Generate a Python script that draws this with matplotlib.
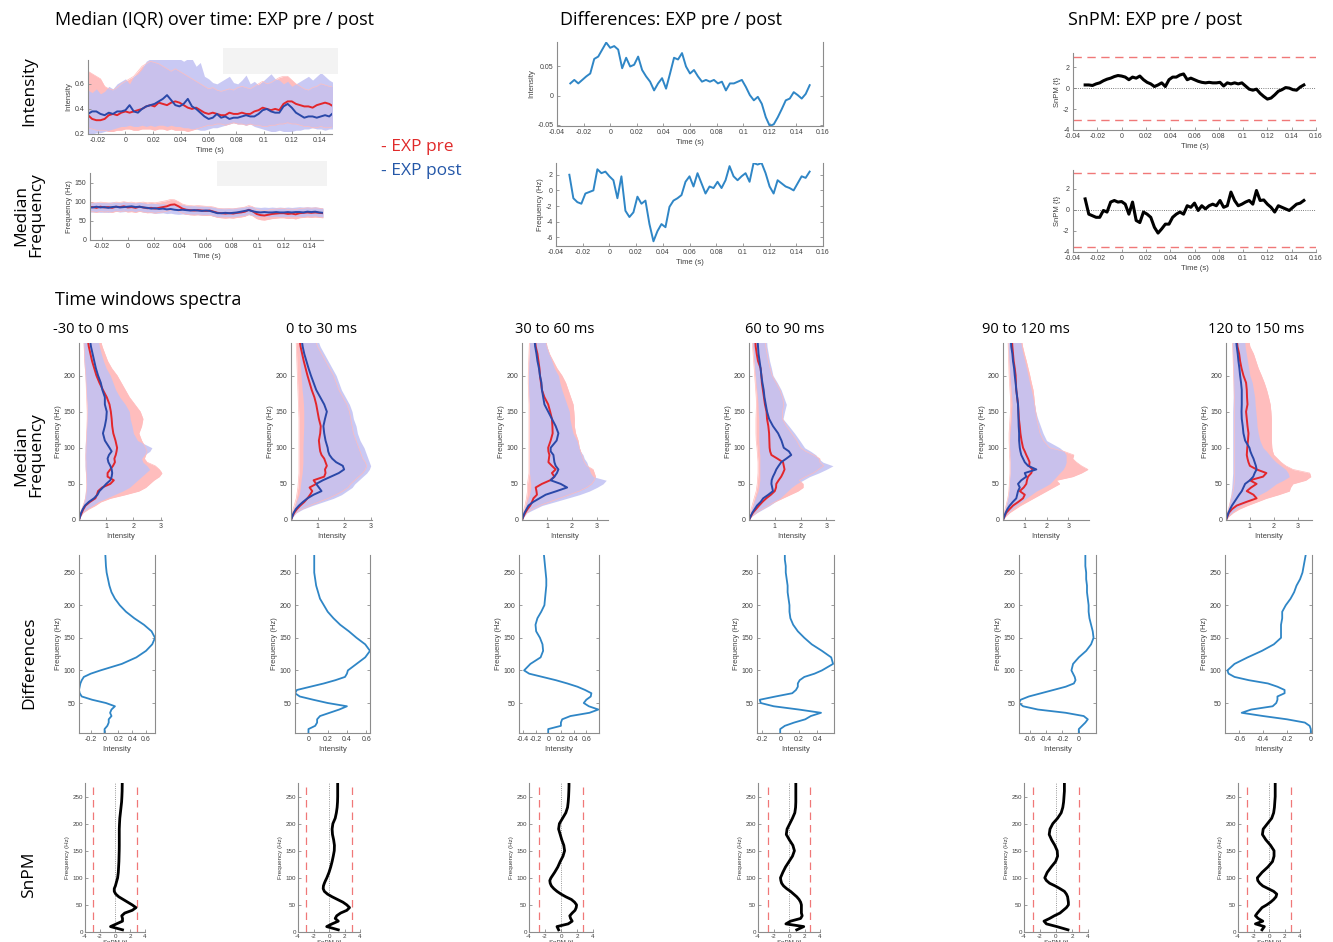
import numpy as np
import matplotlib
matplotlib.use('Agg')
import matplotlib.pyplot as plt
from matplotlib.patches import Rectangle
from matplotlib.ticker import FormatStrFormatter

plt.rcParams['font.family'] = ['Liberation Sans', 'DejaVu Sans']
plt.rcParams['axes.unicode_minus'] = False

W, H = 1333, 942

# ---- time courses (samples every 3 ms from -30 to 150 ms) ----
T = np.linspace(-0.03, 0.15, 61)

INT_PRE_MED = [0.35, 0.35, 0.32, 0.31, 0.31, 0.32, 0.35, 0.36, 0.35, 0.37, 0.38, 0.37, 0.38, 0.39, 0.40, 0.42, 0.43, 0.42, 0.45, 0.44, 0.43, 0.45, 0.46, 0.45, 0.43, 0.41, 0.40, 0.41, 0.39, 0.37, 0.36, 0.37, 0.36, 0.35, 0.35, 0.37, 0.36, 0.36, 0.37, 0.36, 0.36, 0.38, 0.39, 0.41, 0.40, 0.39, 0.40, 0.39, 0.44, 0.46, 0.46, 0.44, 0.43, 0.42, 0.42, 0.41, 0.43, 0.44, 0.45, 0.44, 0.42]
INT_POST_MED = [0.36, 0.36, 0.38, 0.38, 0.36, 0.35, 0.37, 0.36, 0.38, 0.38, 0.39, 0.43, 0.38, 0.37, 0.40, 0.42, 0.43, 0.44, 0.46, 0.48, 0.51, 0.47, 0.43, 0.42, 0.44, 0.48, 0.42, 0.40, 0.37, 0.34, 0.32, 0.33, 0.36, 0.33, 0.34, 0.32, 0.33, 0.33, 0.34, 0.35, 0.34, 0.34, 0.36, 0.39, 0.40, 0.38, 0.37, 0.37, 0.42, 0.44, 0.41, 0.37, 0.35, 0.33, 0.34, 0.34, 0.33, 0.34, 0.35, 0.34, 0.37]
INT_PRE_LO = [0.25, 0.25, 0.24, 0.23, 0.23, 0.23, 0.22, 0.22, 0.23, 0.23, 0.24, 0.24, 0.23, 0.23, 0.24, 0.24, 0.24, 0.23, 0.24, 0.24, 0.23, 0.24, 0.23, 0.23, 0.23, 0.22, 0.23, 0.24, 0.25, 0.26, 0.27, 0.27, 0.28, 0.28, 0.27, 0.28, 0.29, 0.28, 0.28, 0.27, 0.28, 0.27, 0.27, 0.26, 0.26, 0.27, 0.27, 0.28, 0.28, 0.29, 0.28, 0.28, 0.27, 0.26, 0.26, 0.25, 0.25, 0.26, 0.25, 0.25, 0.26]
INT_PRE_HI = [0.70, 0.70, 0.68, 0.66, 0.64, 0.58, 0.56, 0.55, 0.57, 0.60, 0.62, 0.64, 0.66, 0.70, 0.74, 0.76, 0.78, 0.77, 0.76, 0.74, 0.72, 0.70, 0.72, 0.70, 0.68, 0.66, 0.64, 0.62, 0.60, 0.58, 0.56, 0.57, 0.55, 0.54, 0.55, 0.56, 0.55, 0.57, 0.58, 0.57, 0.56, 0.58, 0.60, 0.62, 0.60, 0.61, 0.63, 0.65, 0.66, 0.66, 0.63, 0.60, 0.58, 0.56, 0.55, 0.57, 0.58, 0.60, 0.59, 0.58, 0.58]
INT_POST_LO = [0.20, 0.20, 0.20, 0.21, 0.21, 0.22, 0.23, 0.24, 0.25, 0.26, 0.26, 0.27, 0.26, 0.26, 0.27, 0.26, 0.27, 0.26, 0.27, 0.27, 0.26, 0.27, 0.26, 0.26, 0.25, 0.25, 0.24, 0.24, 0.23, 0.23, 0.24, 0.25, 0.25, 0.26, 0.27, 0.28, 0.29, 0.28, 0.28, 0.27, 0.28, 0.26, 0.25, 0.24, 0.23, 0.22, 0.22, 0.23, 0.22, 0.22, 0.22, 0.23, 0.23, 0.24, 0.24, 0.25, 0.24, 0.24, 0.23, 0.24, 0.24]
INT_POST_HI = [0.55, 0.55, 0.53, 0.56, 0.52, 0.54, 0.58, 0.56, 0.60, 0.62, 0.64, 0.60, 0.66, 0.68, 0.72, 0.78, 0.80, 0.80, 0.80, 0.80, 0.80, 0.80, 0.80, 0.80, 0.78, 0.80, 0.80, 0.74, 0.77, 0.66, 0.64, 0.61, 0.60, 0.62, 0.64, 0.66, 0.61, 0.60, 0.63, 0.67, 0.60, 0.62, 0.59, 0.62, 0.65, 0.68, 0.64, 0.63, 0.60, 0.62, 0.58, 0.60, 0.62, 0.64, 0.66, 0.63, 0.66, 0.69, 0.66, 0.63, 0.61]

FRQ_PRE_MED = [86, 86, 84, 87, 85, 86, 84, 87, 86, 88, 85, 86, 84, 87, 85, 83, 84, 82, 84, 86, 88, 92, 93, 88, 82, 79, 78, 77, 78, 77, 76, 77, 74, 71, 70, 69, 70, 69, 71, 72, 74, 79, 75, 68, 65, 64, 66, 68, 69, 70, 70, 68, 69, 67, 70, 71, 72, 71, 72, 71, 70]
FRQ_POST_MED = [85, 85, 87, 85, 86, 84, 86, 87, 85, 86, 87, 88, 86, 87, 85, 84, 82, 83, 81, 82, 80, 81, 79, 78, 79, 78, 77, 78, 77, 76, 77, 76, 73, 70, 70, 71, 70, 71, 72, 74, 76, 78, 75, 73, 72, 73, 72, 72, 73, 72, 72, 73, 72, 73, 73, 72, 74, 73, 74, 72, 71]
FRQ_PRE_LO = [74, 74, 72, 75, 73, 74, 72, 75, 74, 76, 73, 74, 72, 75, 73, 71, 72, 70, 72, 73, 75, 78, 80, 75, 70, 67, 66, 65, 66, 65, 64, 65, 62, 59, 58, 57, 58, 57, 59, 60, 62, 67, 63, 56, 53, 52, 54, 56, 57, 58, 58, 56, 57, 55, 58, 59, 60, 59, 60, 59, 58]
FRQ_PRE_HI = [98, 98, 97, 99, 98, 97, 96, 99, 98, 100, 98, 99, 97, 98, 99, 97, 98, 97, 99, 101, 103, 106, 105, 100, 94, 91, 90, 89, 90, 89, 88, 88, 86, 83, 82, 81, 82, 81, 83, 84, 86, 90, 87, 80, 78, 77, 78, 80, 81, 82, 82, 80, 81, 80, 82, 83, 84, 83, 84, 83, 82]
FRQ_POST_LO = [73, 73, 74, 72, 73, 72, 74, 75, 73, 74, 75, 76, 74, 75, 73, 72, 71, 70, 70, 71, 69, 70, 68, 67, 68, 67, 66, 67, 66, 65, 66, 65, 62, 60, 60, 61, 60, 61, 62, 63, 64, 66, 64, 62, 61, 62, 61, 61, 62, 61, 61, 62, 61, 62, 62, 61, 63, 62, 63, 61, 60]
FRQ_POST_HI = [97, 97, 99, 98, 97, 98, 100, 99, 98, 100, 99, 98, 97, 99, 97, 95, 96, 95, 94, 95, 93, 94, 92, 91, 92, 90, 89, 90, 88, 89, 88, 87, 86, 84, 83, 84, 83, 84, 85, 86, 87, 88, 87, 86, 85, 86, 85, 86, 85, 86, 85, 86, 85, 86, 87, 86, 87, 86, 87, 85, 84]

DIFF_INT = [0.021, 0.027, 0.021, 0.027, 0.033, 0.038, 0.063, 0.067, 0.079, 0.091, 0.082, 0.085, 0.079, 0.047, 0.065, 0.050, 0.053, 0.067, 0.044, 0.033, 0.024, 0.009, 0.021, 0.030, 0.012, 0.038, 0.065, 0.062, 0.073, 0.050, 0.038, 0.044, 0.033, 0.024, 0.027, 0.024, 0.027, 0.021, 0.024, 0.009, 0.021, 0.021, 0.024, 0.027, 0.015, 0.001, -0.008, -0.002, -0.014, -0.037, -0.052, -0.049, -0.037, -0.023, -0.008, -0.005, 0.006, 0.001, -0.005, 0.003, 0.018]
DIFF_FRQ = [2.0, -1.0, -1.5, -1.7, -0.4, -0.2, 0.0, 2.7, 2.2, 2.4, 1.8, 1.3, -1.0, 1.8, -2.6, -3.4, -2.8, -0.8, -1.7, -1.3, -4.3, -6.5, -5.2, -4.3, -4.7, -2.1, -1.3, -1.0, -0.6, 1.1, 1.8, 0.5, 2.2, 0.9, -0.4, 0.5, 0.3, 1.1, 0.3, 1.3, 3.1, 1.8, 1.3, 1.8, 2.2, 1.1, 3.5, 3.3, 3.5, 2.2, 0.5, -0.4, 1.3, 0.9, 0.5, 0.3, 0.0, 0.9, 1.8, 1.6, 2.4]
SNPM_INT = [0.3, 0.3, 0.25, 0.4, 0.5, 0.7, 0.85, 0.95, 1.1, 1.2, 1.15, 1.05, 0.8, 1.05, 0.95, 1.15, 0.8, 0.55, 0.4, 0.15, 0.3, 0.5, 0.15, 0.8, 1.05, 1.05, 1.25, 1.35, 0.8, 0.95, 0.8, 0.65, 0.55, 0.5, 0.55, 0.5, 0.5, 0.55, 0.2, 0.5, 0.4, 0.5, 0.4, 0.5, 0.2, -0.1, -0.2, -0.1, -0.5, -0.8, -1.05, -0.95, -0.65, -0.3, -0.15, 0.05, 0.0, -0.15, -0.2, 0.1, 0.3]
SNPM_FRQ = [1.05, -0.4, -0.55, -0.7, -0.7, -0.05, -0.2, 0.75, 0.9, 0.75, 0.8, 0.55, -0.4, 0.75, -1.0, -1.2, -0.2, -0.4, -0.7, -1.65, -2.2, -1.8, -1.35, -1.35, -0.7, -0.4, -0.2, -0.4, 0.4, 0.25, 0.65, -0.05, 0.4, 0.1, 0.4, 0.55, 0.4, 0.9, 0.25, 0.4, 1.7, 0.9, 0.4, 0.55, 0.75, 0.9, 0.55, 1.85, 0.9, 0.95, 0.55, 0.25, -0.2, 0.4, 0.25, 0.1, -0.05, 0.25, 0.55, 0.65, 0.9]
SNPM_INT_THR = 3.0
SNPM_FRQ_THR = 3.5

# ---- time-window spectra ----
WINDOWS = ['-30 to 0 ms', '0 to 30 ms', '30 to 60 ms', '60 to 90 ms', '90 to 120 ms', '120 to 150 ms']
F_SPEC = [0, 5, 10, 15, 20, 25, 30, 35, 40, 45, 50, 55, 60, 65, 70, 75, 80, 85, 90, 95, 100,
          110, 120, 130, 140, 150, 160, 170, 180, 190, 200, 210, 220, 230, 240, 250]

SPEC_PRE_MED = [
    [0, 0.04, 0.10, 0.16, 0.24, 0.40, 0.60, 0.66, 0.70, 0.85, 1.15, 1.28, 1.05, 1.05, 1.15, 1.25, 1.32, 1.30, 1.35, 1.38, 1.40, 1.34, 1.26, 1.22, 1.20, 1.17, 1.12, 1.02, 0.88, 0.75, 0.64, 0.56, 0.48, 0.42, 0.36, 0.32],
    [0, 0.05, 0.12, 0.22, 0.35, 0.50, 0.62, 0.72, 0.80, 0.70, 0.95, 0.85, 1.25, 1.30, 1.28, 1.35, 1.30, 1.25, 1.15, 1.10, 1.08, 1.05, 1.10, 1.12, 1.05, 1.00, 0.95, 0.88, 0.78, 0.70, 0.62, 0.55, 0.48, 0.42, 0.36, 0.32],
    [0, 0.06, 0.13, 0.22, 0.33, 0.40, 0.46, 0.60, 0.58, 0.55, 0.80, 1.13, 1.30, 1.20, 1.35, 1.20, 1.06, 1.08, 1.10, 1.06, 1.05, 1.15, 1.23, 1.22, 1.20, 1.13, 1.05, 0.90, 0.80, 0.76, 0.72, 0.70, 0.66, 0.62, 0.55, 0.52],
    [0, 0.07, 0.15, 0.27, 0.39, 0.52, 0.67, 0.85, 1.00, 1.05, 1.06, 1.15, 1.25, 1.32, 1.38, 1.35, 1.32, 1.10, 0.87, 0.82, 0.80, 0.79, 0.78, 0.75, 0.70, 0.68, 0.62, 0.58, 0.54, 0.50, 0.48, 0.45, 0.35, 0.30, 0.26, 0.24],
    [0, 0.07, 0.15, 0.30, 0.46, 0.70, 0.92, 1.00, 0.77, 0.95, 1.07, 1.10, 1.15, 1.30, 1.35, 1.20, 1.22, 1.15, 1.07, 1.00, 0.92, 0.85, 0.80, 0.77, 0.73, 0.71, 0.69, 0.65, 0.61, 0.59, 0.58, 0.54, 0.49, 0.46, 0.43, 0.41],
    [0, 0.06, 0.12, 0.25, 0.45, 0.85, 1.28, 1.15, 0.87, 1.05, 1.28, 1.00, 1.55, 1.69, 1.28, 1.00, 0.94, 0.90, 0.87, 0.88, 0.89, 0.92, 0.94, 0.90, 0.87, 0.84, 0.90, 0.88, 0.87, 0.84, 0.73, 0.65, 0.59, 0.55, 0.48, 0.45],
]
SPEC_POST_MED = [
    [0, 0.04, 0.08, 0.14, 0.22, 0.36, 0.55, 0.68, 0.75, 0.88, 1.00, 1.15, 1.20, 1.22, 1.20, 1.15, 1.08, 1.05, 1.10, 1.20, 1.12, 0.95, 0.88, 0.95, 1.00, 1.02, 0.95, 0.95, 0.86, 0.80, 0.70, 0.62, 0.56, 0.50, 0.44, 0.40],
    [0, 0.05, 0.10, 0.18, 0.30, 0.45, 0.62, 0.85, 1.15, 1.05, 0.95, 1.20, 1.50, 1.80, 2.00, 1.95, 1.70, 1.55, 1.45, 1.40, 1.38, 1.30, 1.25, 1.22, 1.28, 1.35, 1.25, 1.10, 0.95, 0.85, 0.75, 0.66, 0.58, 0.50, 0.44, 0.40],
    [0, 0.05, 0.10, 0.18, 0.26, 0.45, 0.70, 0.95, 1.39, 1.81, 1.55, 1.15, 1.30, 1.40, 1.46, 1.35, 1.30, 1.28, 1.26, 1.15, 1.15, 1.39, 1.46, 1.35, 1.20, 1.05, 0.90, 0.85, 0.80, 0.78, 0.72, 0.68, 0.62, 0.58, 0.53, 0.50],
    [0, 0.06, 0.13, 0.22, 0.31, 0.45, 0.55, 0.75, 0.93, 0.90, 0.87, 0.88, 0.93, 1.00, 1.06, 1.15, 1.25, 1.45, 1.64, 1.55, 1.35, 1.26, 1.13, 0.93, 0.78, 0.70, 0.65, 0.60, 0.57, 0.52, 0.48, 0.45, 0.41, 0.37, 0.35, 0.33],
    [0, 0.06, 0.12, 0.20, 0.31, 0.45, 0.61, 0.65, 0.69, 0.77, 0.69, 0.84, 1.07, 1.00, 1.53, 1.15, 1.00, 0.92, 0.84, 0.80, 0.77, 0.74, 0.74, 0.72, 0.71, 0.70, 0.69, 0.65, 0.61, 0.58, 0.54, 0.51, 0.46, 0.43, 0.38, 0.36],
    [0, 0.05, 0.10, 0.17, 0.25, 0.35, 0.45, 0.55, 0.66, 0.73, 0.80, 1.00, 1.14, 1.20, 1.28, 1.25, 1.20, 1.15, 1.08, 1.02, 0.98, 0.80, 0.73, 0.70, 0.66, 0.65, 0.66, 0.66, 0.66, 0.63, 0.59, 0.56, 0.52, 0.49, 0.45, 0.42],
]
SPEC_PRE_LO = [
    [0, 0.02, 0.05, 0.10, 0.15, 0.20, 0.24, 0.26, 0.27, 0.28, 0.28, 0.28, 0.27, 0.27, 0.26, 0.26, 0.26, 0.25, 0.25, 0.26, 0.26, 0.27, 0.28, 0.29, 0.30, 0.30, 0.29, 0.28, 0.27, 0.26, 0.25, 0.23, 0.21, 0.20, 0.19, 0.18],
    [0, 0.02, 0.05, 0.08, 0.12, 0.16, 0.20, 0.22, 0.24, 0.26, 0.27, 0.28, 0.29, 0.30, 0.30, 0.30, 0.30, 0.30, 0.30, 0.30, 0.30, 0.30, 0.30, 0.30, 0.30, 0.29, 0.28, 0.27, 0.26, 0.25, 0.24, 0.23, 0.22, 0.21, 0.20, 0.19],
    [0, 0.02, 0.05, 0.08, 0.12, 0.15, 0.18, 0.20, 0.22, 0.22, 0.22, 0.24, 0.26, 0.28, 0.28, 0.28, 0.28, 0.28, 0.28, 0.28, 0.28, 0.28, 0.28, 0.28, 0.28, 0.28, 0.28, 0.27, 0.26, 0.25, 0.25, 0.26, 0.27, 0.28, 0.29, 0.30],
    [0, 0.02, 0.05, 0.08, 0.12, 0.16, 0.20, 0.24, 0.28, 0.30, 0.32, 0.33, 0.34, 0.35, 0.35, 0.35, 0.35, 0.34, 0.33, 0.32, 0.31, 0.28, 0.27, 0.27, 0.27, 0.28, 0.29, 0.28, 0.26, 0.24, 0.22, 0.20, 0.18, 0.16, 0.14, 0.13],
    [0, 0.03, 0.06, 0.10, 0.14, 0.18, 0.22, 0.25, 0.27, 0.28, 0.29, 0.30, 0.31, 0.32, 0.32, 0.32, 0.32, 0.31, 0.30, 0.30, 0.29, 0.28, 0.28, 0.30, 0.32, 0.34, 0.35, 0.34, 0.32, 0.30, 0.28, 0.27, 0.26, 0.25, 0.24, 0.23],
    [0, 0.03, 0.06, 0.10, 0.14, 0.18, 0.22, 0.26, 0.30, 0.32, 0.34, 0.35, 0.36, 0.36, 0.36, 0.36, 0.36, 0.36, 0.36, 0.36, 0.36, 0.36, 0.36, 0.35, 0.35, 0.35, 0.35, 0.35, 0.34, 0.33, 0.32, 0.31, 0.30, 0.29, 0.28, 0.27],
]
SPEC_PRE_HI = [
    [0, 0.06, 0.15, 0.35, 0.60, 0.80, 1.15, 1.70, 2.20, 2.45, 2.60, 2.75, 2.95, 3.05, 2.95, 2.80, 2.50, 2.40, 2.45, 2.50, 2.45, 2.30, 2.20, 2.30, 2.35, 2.25, 2.05, 1.85, 1.70, 1.55, 1.40, 1.20, 1.05, 0.95, 0.85, 0.78],
    [0, 0.07, 0.18, 0.40, 0.70, 1.05, 1.40, 1.70, 1.95, 2.15, 2.25, 2.40, 2.55, 2.70, 2.80, 2.85, 2.80, 2.70, 2.65, 2.60, 2.55, 2.45, 2.35, 2.30, 2.25, 2.20, 2.10, 1.95, 1.80, 1.70, 1.60, 1.45, 1.30, 1.15, 1.00, 0.90],
    [0, 0.08, 0.18, 0.40, 0.70, 1.10, 1.50, 1.90, 2.30, 2.60, 2.80, 2.90, 2.95, 2.90, 2.85, 2.60, 2.50, 2.45, 2.40, 2.35, 2.30, 2.25, 2.15, 2.10, 2.10, 2.08, 2.05, 1.95, 1.85, 1.75, 1.60, 1.40, 1.25, 1.10, 1.00, 0.95],
    [0, 0.10, 0.28, 0.50, 0.75, 1.00, 1.30, 1.60, 1.90, 2.10, 2.10, 1.95, 2.20, 2.50, 2.70, 2.90, 2.75, 2.75, 2.50, 2.20, 2.00, 1.85, 1.65, 1.45, 1.30, 1.30, 1.35, 1.30, 1.20, 1.05, 0.90, 0.82, 0.75, 0.70, 0.65, 0.62],
    [0, 0.12, 0.30, 0.55, 0.80, 1.10, 1.40, 1.70, 2.00, 2.30, 2.60, 2.45, 3.20, 3.60, 3.90, 3.60, 3.37, 3.20, 3.25, 2.80, 2.14, 1.85, 1.70, 1.62, 1.55, 1.50, 1.45, 1.42, 1.38, 1.30, 1.23, 1.15, 1.07, 0.98, 0.90, 0.85],
    [0, 0.12, 0.30, 0.55, 0.90, 1.30, 1.69, 2.20, 2.65, 2.70, 2.80, 3.34, 3.55, 3.50, 2.80, 2.50, 2.30, 2.15, 2.00, 1.95, 1.92, 1.90, 1.90, 1.90, 1.90, 1.88, 1.85, 1.78, 1.70, 1.60, 1.48, 1.35, 1.25, 1.15, 1.00, 0.95],
]
SPEC_POST_LO = [
    [0, 0.02, 0.05, 0.09, 0.13, 0.17, 0.20, 0.22, 0.24, 0.26, 0.27, 0.26, 0.25, 0.24, 0.23, 0.22, 0.22, 0.22, 0.22, 0.22, 0.22, 0.24, 0.26, 0.28, 0.29, 0.30, 0.30, 0.28, 0.26, 0.24, 0.22, 0.20, 0.18, 0.17, 0.16, 0.15],
    [0, 0.03, 0.06, 0.10, 0.15, 0.20, 0.25, 0.30, 0.33, 0.35, 0.36, 0.38, 0.40, 0.42, 0.43, 0.44, 0.45, 0.45, 0.45, 0.45, 0.45, 0.46, 0.47, 0.48, 0.48, 0.48, 0.47, 0.45, 0.42, 0.40, 0.38, 0.36, 0.34, 0.32, 0.30, 0.28],
    [0, 0.03, 0.06, 0.10, 0.15, 0.20, 0.25, 0.30, 0.33, 0.35, 0.35, 0.33, 0.32, 0.30, 0.30, 0.30, 0.30, 0.30, 0.30, 0.30, 0.30, 0.30, 0.30, 0.30, 0.30, 0.30, 0.30, 0.28, 0.27, 0.26, 0.26, 0.27, 0.28, 0.30, 0.30, 0.30],
    [0, 0.03, 0.06, 0.10, 0.15, 0.20, 0.25, 0.30, 0.35, 0.38, 0.40, 0.42, 0.42, 0.42, 0.42, 0.42, 0.42, 0.42, 0.42, 0.40, 0.40, 0.38, 0.38, 0.38, 0.38, 0.36, 0.35, 0.33, 0.30, 0.27, 0.25, 0.22, 0.20, 0.18, 0.15, 0.14],
    [0, 0.03, 0.06, 0.10, 0.14, 0.18, 0.22, 0.25, 0.27, 0.28, 0.30, 0.30, 0.32, 0.33, 0.33, 0.33, 0.33, 0.33, 0.32, 0.32, 0.30, 0.30, 0.32, 0.35, 0.38, 0.40, 0.42, 0.40, 0.38, 0.35, 0.32, 0.30, 0.28, 0.26, 0.24, 0.23],
    [0, 0.02, 0.05, 0.08, 0.11, 0.14, 0.17, 0.20, 0.22, 0.24, 0.25, 0.26, 0.27, 0.28, 0.28, 0.28, 0.28, 0.28, 0.28, 0.28, 0.28, 0.28, 0.28, 0.28, 0.28, 0.28, 0.29, 0.30, 0.30, 0.30, 0.30, 0.29, 0.28, 0.27, 0.26, 0.25],
]
SPEC_POST_HI = [
    [0, 0.06, 0.14, 0.30, 0.50, 0.70, 1.00, 1.30, 1.60, 1.85, 2.00, 2.15, 2.30, 2.45, 2.60, 2.50, 2.35, 2.30, 2.40, 2.60, 2.68, 2.15, 2.00, 1.95, 1.88, 1.85, 1.70, 1.50, 1.35, 1.25, 1.15, 1.00, 0.90, 0.82, 0.75, 0.70],
    [0, 0.08, 0.20, 0.45, 0.80, 1.20, 1.60, 1.90, 2.10, 2.30, 2.40, 2.55, 2.70, 2.85, 2.95, 3.00, 2.95, 2.90, 2.85, 2.80, 2.75, 2.60, 2.50, 2.45, 2.35, 2.30, 2.20, 2.05, 1.90, 1.80, 1.70, 1.55, 1.40, 1.25, 1.10, 1.00],
    [0, 0.08, 0.20, 0.50, 0.80, 1.30, 1.80, 2.30, 2.70, 3.00, 3.25, 3.38, 2.85, 2.75, 2.70, 2.65, 2.60, 2.50, 2.45, 2.35, 2.30, 2.20, 2.05, 1.98, 1.92, 1.90, 1.80, 1.70, 1.60, 1.52, 1.46, 1.30, 1.20, 1.10, 1.00, 0.95],
    [0, 0.10, 0.30, 0.55, 0.80, 1.00, 1.20, 1.35, 1.50, 1.65, 1.84, 2.10, 2.35, 2.70, 3.00, 3.26, 2.87, 2.70, 2.60, 2.40, 2.16, 1.97, 1.77, 1.55, 1.32, 1.38, 1.45, 1.35, 1.25, 1.10, 0.93, 0.87, 0.80, 0.75, 0.70, 0.68],
    [0, 0.10, 0.25, 0.40, 0.60, 0.85, 1.07, 1.30, 1.53, 1.85, 2.14, 2.30, 2.45, 2.60, 2.76, 2.85, 2.90, 2.90, 2.90, 2.80, 2.60, 2.00, 1.84, 1.72, 1.60, 1.50, 1.45, 1.37, 1.30, 1.22, 1.15, 1.08, 1.00, 0.92, 0.85, 0.80],
    [0, 0.10, 0.25, 0.40, 0.60, 0.90, 1.15, 1.40, 1.69, 1.90, 2.10, 2.40, 2.65, 2.60, 2.50, 2.30, 2.10, 1.95, 1.82, 1.70, 1.55, 1.42, 1.35, 1.30, 1.28, 1.25, 1.22, 1.20, 1.15, 1.10, 1.00, 0.95, 0.90, 0.85, 0.80, 0.78],
]
SPEC_XMAX = [3.05, 3.05, 3.45, 3.3, 3.95, 3.6]

# ---- frequency profiles of the differences and SnPM ----
F_DIFF = [4, 10, 15, 20, 25, 30, 35, 40, 45, 50, 55, 60, 65, 70, 75, 80, 85, 90, 95, 100,
          110, 120, 130, 140, 150, 160, 170, 180, 190, 200, 210, 220, 230, 240, 250, 260, 270, 280]

DIFF_SPEC = [
    [0.0, 0.0, 0.04, 0.06, 0.06, 0.10, 0.08, 0.10, 0.15, 0.02, -0.18, -0.33, -0.36, -0.37, -0.36, -0.35, -0.33, -0.30, -0.20, -0.06, 0.25, 0.46, 0.60, 0.69, 0.73, 0.68, 0.57, 0.43, 0.31, 0.22, 0.15, 0.10, 0.07, 0.05, 0.03, 0.02, 0.015, 0.01],
    [0.0, 0.0, 0.07, 0.09, 0.09, 0.12, 0.22, 0.32, 0.40, 0.20, 0.05, -0.09, -0.14, -0.12, 0.02, 0.16, 0.28, 0.38, 0.40, 0.41, 0.50, 0.59, 0.64, 0.59, 0.50, 0.42, 0.33, 0.26, 0.20, 0.16, 0.12, 0.10, 0.08, 0.07, 0.06, 0.06, 0.06, 0.06],
    [0.0, 0.0, 0.20, 0.20, 0.22, 0.35, 0.65, 0.79, 0.64, 0.56, 0.60, 0.67, 0.68, 0.58, 0.46, 0.30, 0.12, -0.09, -0.30, -0.38, -0.28, -0.12, -0.08, -0.09, -0.13, -0.19, -0.20, -0.17, -0.11, -0.06, -0.05, -0.04, -0.03, -0.03, -0.04, -0.05, -0.06, -0.07],
    [0.0, 0.0, 0.05, 0.15, 0.27, 0.33, 0.44, 0.20, -0.07, -0.21, -0.22, -0.05, 0.13, 0.17, 0.19, 0.19, 0.21, 0.26, 0.37, 0.45, 0.57, 0.55, 0.45, 0.34, 0.26, 0.19, 0.14, 0.11, 0.10, 0.10, 0.09, 0.08, 0.08, 0.07, 0.06, 0.06, 0.05, 0.05],
    [0.0, 0.0, 0.04, 0.08, 0.11, 0.06, -0.16, -0.50, -0.68, -0.73, -0.71, -0.61, -0.46, -0.31, -0.16, -0.06, -0.04, -0.05, -0.07, -0.09, -0.07, 0.0, 0.09, 0.15, 0.18, 0.17, 0.15, 0.13, 0.12, 0.12, 0.11, 0.10, 0.10, 0.09, 0.09, 0.08, 0.08, 0.08],
    [0.0, 0.0, -0.01, -0.05, -0.20, -0.40, -0.58, -0.50, -0.32, -0.29, -0.28, -0.28, -0.22, -0.22, -0.28, -0.36, -0.52, -0.64, -0.69, -0.70, -0.64, -0.53, -0.41, -0.31, -0.25, -0.25, -0.25, -0.24, -0.24, -0.21, -0.17, -0.14, -0.12, -0.09, -0.07, -0.06, -0.05, -0.04],
]
DIFF_XLIM = [(-0.37, 0.73), (-0.14, 0.64), (-0.46, 0.8), (-0.25, 0.58), (-0.73, 0.21), (-0.72, 0.01)]
DIFF_XTICKS = [[-0.2, 0, 0.2, 0.4, 0.6], [0, 0.2, 0.4, 0.6], [-0.4, -0.2, 0, 0.2, 0.4, 0.6],
               [-0.2, 0, 0.2, 0.4], [-0.6, -0.4, -0.2, 0], [-0.6, -0.4, -0.2, 0]]

SNPM_SPEC = [
    [1.0, -0.6, 0.2, 1.0, 1.0, 0.9, 1.3, 2.3, 2.8, 2.3, 1.7, 1.1, 0.5, 0.1, -0.1, -0.1, 0.05, 0.15, 0.25, 0.35, 0.44, 0.48, 0.52, 0.54, 0.56, 0.57, 0.57, 0.57, 0.57, 0.60, 0.64, 0.72, 0.80, 0.88, 0.92, 0.95, 0.96, 0.97],
    [1.2, -0.3, 0.4, 1.2, 0.8, 1.0, 1.5, 2.3, 2.65, 2.3, 1.8, 1.1, 0.4, -0.2, -0.6, -0.75, -0.72, -0.6, -0.45, -0.28, 0.0, 0.22, 0.4, 0.55, 0.68, 0.7, 0.6, 0.45, 0.4, 0.5, 0.8, 0.95, 1.05, 1.1, 1.12, 1.12, 1.12, 1.12],
    [-0.3, -0.5, 0.9, 1.4, 1.2, 1.1, 1.4, 1.75, 1.9, 1.95, 1.7, 1.3, 0.6, 0.0, -0.5, -0.9, -1.2, -1.35, -1.4, -1.25, -0.8, -0.4, -0.1, 0.25, 0.45, 0.35, 0.1, -0.1, -0.3, -0.2, 0.2, 0.6, 0.82, 0.9, 0.95, 0.98, 1.0, 1.0],
    [1.0, 1.9, -0.4, 0.2, 1.5, 1.7, 1.6, 1.6, 1.6, 1.6, 1.5, 1.3, 1.0, 0.6, 0.2, -0.3, -0.7, -0.95, -1.05, -1.1, -0.8, -0.45, 0.0, 0.45, 0.7, 0.5, 0.05, -0.35, -0.25, 0.1, 0.45, 0.75, 0.85, 0.88, 0.88, 0.88, 0.88, 0.88],
    [1.5, 0.1, -1.2, -1.5, -0.8, -0.2, 0.5, 0.9, 1.3, 1.55, 1.55, 1.5, 1.45, 1.3, 1.05, 0.5, -0.1, -0.8, -1.2, -1.4, -1.1, -0.6, -0.05, 0.2, 0.15, -0.15, -0.55, -0.85, -0.75, -0.4, 0.2, 0.65, 0.85, 0.95, 1.0, 1.05, 1.05, 1.05],
    [-0.9, -0.6, -1.75, -0.8, -1.4, -1.75, -1.5, -1.2, -0.9, -0.3, 0.2, 0.6, 0.9, 1.0, 0.6, -0.1, -0.8, -1.2, -1.45, -1.5, -0.9, -0.15, 0.45, 0.65, 0.65, 0.2, -0.4, -0.85, -0.75, -0.2, 0.35, 0.6, 0.7, 0.75, 0.8, 0.8, 0.8, 0.8],
]
SNPM_THR = [2.95, 2.95, 2.7, 2.75, 2.85, 2.8]

# colours
RED = '#e3262b'
BLUE = '#2a48a8'
PINK = '#ffbdbd'
LAV = '#c2c2f3'
LINE_BLUE = '#2f86c6'
DASH_RED = '#f07878'
SPINE = '#8c8c8c'
TXT = '#404040'
BIG = ['Open Sans', 'DejaVu Sans']


def px_axes(fig, x0, y0, x1, y1):
    return fig.add_axes([x0 / W, 1 - y1 / H, (x1 - x0) / W, (y1 - y0) / H])


def style(ax, right=False):
    ax.spines['top'].set_visible(False)
    ax.spines['right'].set_visible(right)
    for s in ax.spines.values():
        s.set_color(SPINE)
        s.set_linewidth(0.8)
    ax.tick_params(direction='in', length=2, width=0.6, colors=SPINE,
                   labelcolor=TXT, labelsize=5, pad=2.5, right=right)
    ax.set_facecolor('none')


def labels(ax, xl, yl):
    ax.set_xlabel(xl, fontsize=5.5, color=TXT, labelpad=1.5)
    ax.set_ylabel(yl, fontsize=5.5, color=TXT, labelpad=1.5)


def ftext(x, y, s, **kw):
    fig.text(x / W, 1 - y / H, s, **kw)


def band(ax, x, lo, hi, color, alpha, vertical=False):
    # IQR band with a faint outline so the edges show through the other band
    if vertical:
        ax.fill_betweenx(x, lo, hi, color=color, alpha=alpha, lw=0)
        ax.plot(lo, x, color=color, lw=0.5)
        ax.plot(hi, x, color=color, lw=0.5)
    else:
        ax.fill_between(x, lo, hi, color=color, alpha=alpha, lw=0)
        ax.plot(x, lo, color=color, lw=0.5)
        ax.plot(x, hi, color=color, lw=0.5)


fig = plt.figure(figsize=(W / 100, H / 100), dpi=100)

# ---- median (IQR) over time ----
ax = px_axes(fig, 88, 60, 332, 134)
band(ax, T, INT_PRE_LO, INT_PRE_HI, PINK, 1.0)
ax.fill_between(T, INT_POST_LO, INT_POST_HI, color=LAV, alpha=0.88, lw=0)
ax.plot(T, INT_PRE_MED, color=RED, lw=1.4)
ax.plot(T, INT_POST_MED, color=BLUE, lw=1.4)
ax.set_xlim(-0.027, 0.149)
ax.set_ylim(0.2, 0.79)
ax.set_xticks(np.arange(-0.02, 0.15, 0.02))
ax.set_yticks([0.2, 0.4, 0.6])
ax.xaxis.set_major_formatter(FormatStrFormatter('%g'))
ax.yaxis.set_major_formatter(FormatStrFormatter('%g'))
style(ax)
labels(ax, 'Time (s)', 'Intensity')

ax = px_axes(fig, 90, 173, 323, 240)
band(ax, T, FRQ_PRE_LO, FRQ_PRE_HI, PINK, 1.0)
ax.fill_between(T, FRQ_POST_LO, FRQ_POST_HI, color=LAV, alpha=0.88, lw=0)
ax.plot(T, FRQ_PRE_MED, color=RED, lw=1.4)
ax.plot(T, FRQ_POST_MED, color=BLUE, lw=1.4)
ax.set_xlim(-0.029, 0.15)
ax.set_ylim(0, 175)
ax.set_xticks(np.arange(-0.02, 0.15, 0.02))
ax.set_yticks([0, 50, 100, 150])
ax.xaxis.set_major_formatter(FormatStrFormatter('%g'))
style(ax)
labels(ax, 'Time (s)', 'Frequency (Hz)')

# ---- differences over time ----
ax = px_axes(fig, 557, 42, 823, 126)
ax.plot(T, DIFF_INT, color=LINE_BLUE, lw=1.4)
ax.set_xlim(-0.04, 0.16)
ax.set_ylim(-0.052, 0.092)
ax.set_xticks(np.arange(-0.04, 0.17, 0.02))
ax.set_yticks([-0.05, 0, 0.05])
ax.xaxis.set_major_formatter(FormatStrFormatter('%g'))
ax.yaxis.set_major_formatter(FormatStrFormatter('%g'))
style(ax, right=True)
labels(ax, 'Time (s)', 'Intensity')

ax = px_axes(fig, 556, 163, 823, 246)
ax.plot(T, DIFF_FRQ, color=LINE_BLUE, lw=1.4)
ax.set_xlim(-0.04, 0.16)
ax.set_ylim(-7.1, 3.5)
ax.set_xticks(np.arange(-0.04, 0.17, 0.02))
ax.set_yticks([-6, -4, -2, 0, 2])
ax.xaxis.set_major_formatter(FormatStrFormatter('%g'))
style(ax, right=True)
labels(ax, 'Time (s)', 'Frequency (Hz)')

# ---- SnPM over time ----
for (y0, y1, vals, thr, ylim) in [(53, 130, SNPM_INT, SNPM_INT_THR, (-4, 3.35)),
                                  (170, 252, SNPM_FRQ, SNPM_FRQ_THR, (-4, 3.8))]:
    ax = px_axes(fig, 1073, y0, 1316, y1)
    ax.axhline(0, color='#555555', ls=':', lw=0.6)
    ax.axhline(thr, color=DASH_RED, ls=(0, (6, 4)), lw=1.0)
    ax.axhline(-thr, color=DASH_RED, ls=(0, (6, 4)), lw=1.0)
    ax.plot(T, vals, color='black', lw=2.2)
    ax.set_xlim(-0.04, 0.16)
    ax.set_ylim(*ylim)
    ax.set_xticks(np.arange(-0.04, 0.17, 0.02))
    ax.set_yticks([-4, -2, 0, 2])
    ax.xaxis.set_major_formatter(FormatStrFormatter('%g'))
    style(ax)
    labels(ax, 'Time (s)', 'SnPM {t}')

# ---- time windows ----
SPEC_BOX = [(79, 162), (291, 372), (522, 608), (749, 834), (1003, 1089), (1226, 1312)]
DIFF_BOX = [(79, 155), (295, 370), (519, 599), (757, 834), (1019, 1096), (1225, 1312)]
SNPM_BOX = [(85, 145), (298, 360), (529, 593), (758, 820), (1024, 1088), (1238, 1300)]
TITLE_X = [53, 286, 515, 745, 982, 1208]

for i in range(6):
    x0, x1 = SPEC_BOX[i]
    ax = px_axes(fig, x0, 343, x1, 520)
    band(ax, F_SPEC, SPEC_PRE_LO[i], SPEC_PRE_HI[i], PINK, 1.0, vertical=True)
    ax.fill_betweenx(F_SPEC, SPEC_POST_LO[i], SPEC_POST_HI[i], color=LAV, alpha=0.88, lw=0)
    ax.plot(SPEC_PRE_MED[i], F_SPEC, color=RED, lw=1.4)
    ax.plot(SPEC_POST_MED[i], F_SPEC, color=BLUE, lw=1.4)
    ax.set_xlim(0, SPEC_XMAX[i])
    ax.set_ylim(0, 245)
    ax.set_xticks([1, 2, 3])
    ax.set_yticks([0, 50, 100, 150, 200])
    style(ax)
    labels(ax, 'Intensity', 'Frequency (Hz)')
    ftext(TITLE_X[i], 330, WINDOWS[i], family=BIG, fontsize=10.5, va='center', ha='left')

    x0, x1 = DIFF_BOX[i]
    ax = px_axes(fig, x0, 555, x1, 733)
    ax.plot(DIFF_SPEC[i], F_DIFF, color=LINE_BLUE, lw=1.3)
    ax.set_xlim(*DIFF_XLIM[i])
    ax.set_ylim(4, 277)
    ax.set_xticks(DIFF_XTICKS[i])
    ax.set_yticks([50, 100, 150, 200, 250])
    ax.xaxis.set_major_formatter(FormatStrFormatter('%g'))
    style(ax, right=True)
    labels(ax, 'Intensity', 'Frequency (Hz)')

    x0, x1 = SNPM_BOX[i]
    ax = px_axes(fig, x0, 783, x1, 932)
    ax.axvline(0, color='#777777', ls=':', lw=0.6)
    ax.axvline(SNPM_THR[i], color=DASH_RED, ls=(0, (6, 4)), lw=0.9)
    ax.axvline(-SNPM_THR[i], color=DASH_RED, ls=(0, (6, 4)), lw=0.9)
    ax.plot(SNPM_SPEC[i], F_DIFF, color='black', lw=2.0)
    ax.set_xlim(-4, 4)
    ax.set_ylim(0, 275)
    ax.set_xticks([-4, -2, 0, 2, 4])
    ax.set_yticks([0, 50, 100, 150, 200, 250])
    style(ax)
    ax.tick_params(labelsize=4.5, pad=1.5)
    labels(ax, 'SnPM {t}', 'Frequency (Hz)')
    ax.xaxis.label.set_size(4.5)
    ax.yaxis.label.set_size(4.5)
    ax.xaxis.labelpad = 0.5

# ---- headings, row labels, legend ----
ftext(55, 20, 'Median (IQR) over time: EXP pre / post', family=BIG, fontsize=13, va='center')
ftext(560, 20, 'Differences: EXP pre / post', family=BIG, fontsize=13, va='center')
ftext(1068, 20, 'SnPM: EXP pre / post', family=BIG, fontsize=13, va='center')
ftext(55, 300, 'Time windows spectra', family=BIG, fontsize=13, va='center')

ftext(29, 91, 'Intensity', family=BIG, fontsize=12.5, rotation=90, ha='center', va='center')
ftext(29, 215, 'Median\nFrequency', family=BIG, fontsize=12.5, rotation=90, ha='center', va='center',
      linespacing=0.95)
ftext(29, 455, 'Median\nFrequency', family=BIG, fontsize=12.5, rotation=90, ha='center', va='center',
      linespacing=0.95)
ftext(29, 663, 'Differences', family=BIG, fontsize=12.5, rotation=90, ha='center', va='center')
ftext(29, 875, 'SnPM', family=BIG, fontsize=12.5, rotation=90, ha='center', va='center')

ftext(381, 147, '- EXP pre', family=BIG, fontsize=12.5, color='#e02a2a', va='center')
ftext(381, 171, '- EXP post', family=BIG, fontsize=12.5, color='#2457a8', va='center')

# blank boxes over the top-left panels
for (x0, y0, x1, y1) in [(223, 48, 338, 74), (217, 161, 327, 186)]:
    fig.patches.append(Rectangle((x0 / W, 1 - y1 / H), (x1 - x0) / W, (y1 - y0) / H,
                                 transform=fig.transFigure, facecolor='#f3f3f3',
                                 edgecolor='none', zorder=10))

fig.savefig('out.png', dpi=100)
